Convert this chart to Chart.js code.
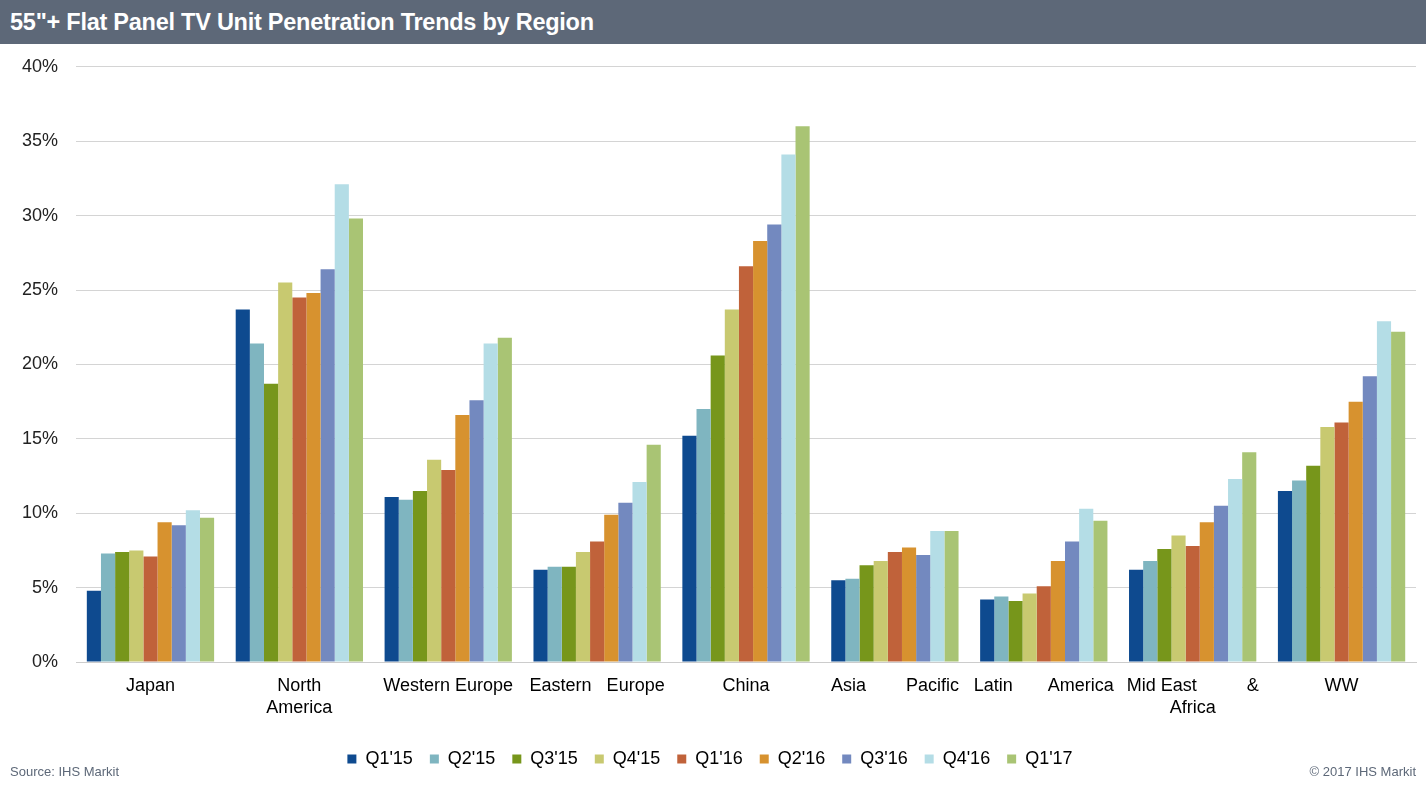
<!DOCTYPE html>
<html>
<head>
<meta charset="utf-8">
<script src="https://cdn.jsdelivr.net/npm/chart.js@4.4.1/dist/chart.umd.min.js"></script>
<style>
  html, body { margin: 0; padding: 0; background: #fff; width: 1426px; height: 785px; overflow: hidden; font-family: "Liberation Sans", Arial, sans-serif; }
  #titlebar { position: absolute; z-index: 2; left: 0; top: 0; width: 1426px; height: 44px; background: #5d6878; color: #fff; font-weight: bold; font-size: 23.5px; line-height: 44px; padding-left: 10px; box-sizing: border-box; letter-spacing: -0.25px; }
  #wrap { position: absolute; z-index: 1; left: 0; top: 38px; width: 1426px; height: 747px; }
  .foot { position: absolute; z-index: 2; top: 764px; font-size: 13px; color: #5d6878; }
</style>
</head>
<body>
<div id="titlebar">55"+ Flat Panel TV Unit Penetration Trends by Region</div>
<div id="wrap"><canvas id="c"></canvas></div>
<div class="foot" style="left:10px;">Source: IHS Markit</div>
<div class="foot" style="right:10px;">© 2017 IHS Markit</div>
<script>
const categories = [
  "Japan",
  ["North", "America"],
  "Western Europe",
  "Eastern   Europe",
  "China",
  "Asia        Pacific",
  "Latin       America",
  ["Mid East          &", "Africa"],
  "WW"
];
const seriesNames = ["Q1'15", "Q2'15", "Q3'15", "Q4'15", "Q1'16", "Q2'16", "Q3'16", "Q4'16", "Q1'17"];
const seriesColors = ["#0e4a8f", "#7fb5c0", "#77961b", "#c8c970", "#c0623a", "#d7922f", "#7389bf", "#b4dde6", "#a9c474"];
// values by series (percent), order of categories above
const q1_15 = [4.8, 23.7, 11.1, 6.2, 15.2, 5.5, 4.2, 6.2, 11.5];
const q2_15 = [7.3, 21.4, 10.9, 6.4, 17.0, 5.6, 4.4, 6.8, 12.2];
const q3_15 = [7.4, 18.7, 11.5, 6.4, 20.6, 6.5, 4.1, 7.6, 13.2];
const q4_15 = [7.5, 25.5, 13.6, 7.4, 23.7, 6.8, 4.6, 8.5, 15.8];
const q1_16 = [7.1, 24.5, 12.9, 8.1, 26.6, 7.4, 5.1, 7.8, 16.1];
const q2_16 = [9.4, 24.8, 16.6, 9.9, 28.3, 7.7, 6.8, 9.4, 17.5];
const q3_16 = [9.2, 26.4, 17.6, 10.7, 29.4, 7.2, 8.1, 10.5, 19.2];
const q4_16 = [10.2, 32.1, 21.4, 12.1, 34.1, 8.8, 10.3, 12.3, 22.9];
const q1_17 = [9.7, 29.8, 21.8, 14.6, 36.0, 8.8, 9.5, 14.1, 22.2];
const yTicks = [0, 5, 10, 15, 20, 25, 30, 35, 40];

const seriesData = [q1_15, q2_15, q3_15, q4_15, q1_16, q2_16, q3_16, q4_16, q1_17];
const FONT = '"Liberation Sans", Arial, sans-serif';

new Chart(document.getElementById('c'), {
  type: 'bar',
  data: {
    labels: categories,
    datasets: seriesNames.map((n, i) => ({
      label: n,
      data: seriesData[i],
      backgroundColor: seriesColors[i],
      borderWidth: 0,
      categoryPercentage: 0.855,
      barPercentage: 1.0
    }))
  },
  options: {
    responsive: true,
    maintainAspectRatio: false,
    animation: false,
    layout: { padding: { top: 6, right: 10, left: 4, bottom: 7 } },
    plugins: {
      title: { display: false },
      tooltip: { enabled: false },
      legend: {
        position: 'bottom',
        labels: {
          font: { family: FONT, size: 18 },
          color: '#000',
          boxWidth: 9,
          boxHeight: 9,
          padding: 17
        }
      }
    },
    scales: {
      x: {
        grid: { display: false },
        border: { display: true, color: '#cccccc' },
        afterFit: (s) => { s.height += 9; },
        ticks: {
          font: { family: FONT, size: 18, lineHeight: 1.22 },
          color: '#000',
          maxRotation: 0,
          autoSkip: false,
          padding: 5
        }
      },
      y: {
        min: 0,
        max: 40,
        afterBuildTicks: (axis) => { axis.ticks = yTicks.map(v => ({ value: v })); },
        grid: { color: '#d4d4d4', drawTicks: false, lineWidth: 1 },
        border: { display: false },
        ticks: {
          font: { family: FONT, size: 18 },
          color: '#222',
          padding: 18,
          callback: (v) => v + '%'
        }
      }
    }
  }
});
</script>
</body>
</html>
